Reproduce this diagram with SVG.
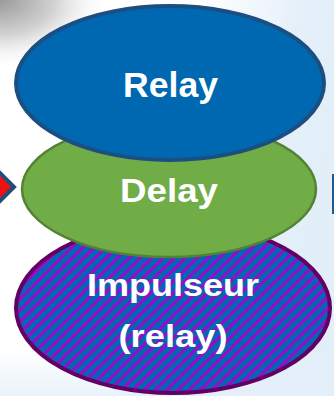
<svg xmlns="http://www.w3.org/2000/svg" width="334" height="396" viewBox="0 0 334 396">
  <defs>
    <linearGradient id="bg" x1="0" y1="0" x2="1" y2="0.3">
      <stop offset="0.55" stop-color="#ffffff"/>
      <stop offset="0.85" stop-color="#e4eff9"/>
      <stop offset="1" stop-color="#e2eef8"/>
    </linearGradient>
    <linearGradient id="bottom" x1="0" y1="0" x2="0" y2="1">
      <stop offset="0" stop-color="#e4eff9" stop-opacity="0"/>
      <stop offset="1" stop-color="#e4eff9" stop-opacity="0.8"/>
    </linearGradient>
    <radialGradient id="corner" cx="0" cy="0" r="1" gradientUnits="objectBoundingBox">
      <stop offset="0" stop-color="#9a9a9a"/>
      <stop offset="0.5" stop-color="#d2d2d2"/>
      <stop offset="1" stop-color="#ffffff" stop-opacity="0"/>
    </radialGradient>
    <pattern id="stripes" patternUnits="userSpaceOnUse" width="8" height="12" patternTransform="rotate(45)">
      <rect width="8" height="12" fill="#0068b0"/>
      <rect width="3.2" height="12" fill="#9a0acc"/>
    </pattern>
  </defs>
  <style>
    .lbl { font-family: "Liberation Sans", Arial, sans-serif; font-weight: bold; fill: #ffffff; text-anchor: middle; }
  </style>

  <!-- background -->
  <rect width="334" height="396" fill="url(#bg)"/>
  <rect x="0" y="0" width="110" height="70" fill="url(#corner)"/>
  <rect x="0" y="350" width="334" height="46" fill="url(#bottom)"/>

  <!-- side markers -->
  <path d="M-14,187 L0,173 L14,187 L0,201 Z" fill="#ee1111" stroke="#1f4e79" stroke-width="4"/>
  <rect x="332" y="174" width="4" height="40" fill="#1f5a96"/>

  <g id="impulseur">
    <ellipse cx="173" cy="308" rx="157" ry="85" fill="url(#stripes)" stroke="#640064" stroke-width="4"/>
    <text class="lbl" x="173" y="296" font-size="32" textLength="172" lengthAdjust="spacingAndGlyphs">Impulseur</text>
    <text class="lbl" x="173" y="347" font-size="32" textLength="109" lengthAdjust="spacingAndGlyphs">(relay)</text>
  </g>

  <g id="delay">
    <ellipse cx="169" cy="189" rx="147" ry="68" fill="#70ad47" stroke="#548235" stroke-width="2.5"/>
    <text class="lbl" x="169" y="202" font-size="34" textLength="98" lengthAdjust="spacingAndGlyphs">Delay</text>
  </g>

  <g id="relay">
    <ellipse cx="170" cy="83" rx="154" ry="77" fill="#0067b1" stroke="#1b4f82" stroke-width="4"/>
    <text class="lbl" x="170.5" y="97" font-size="35" textLength="95" lengthAdjust="spacingAndGlyphs">Relay</text>
  </g>

  <g id="connectors"></g>
</svg>
